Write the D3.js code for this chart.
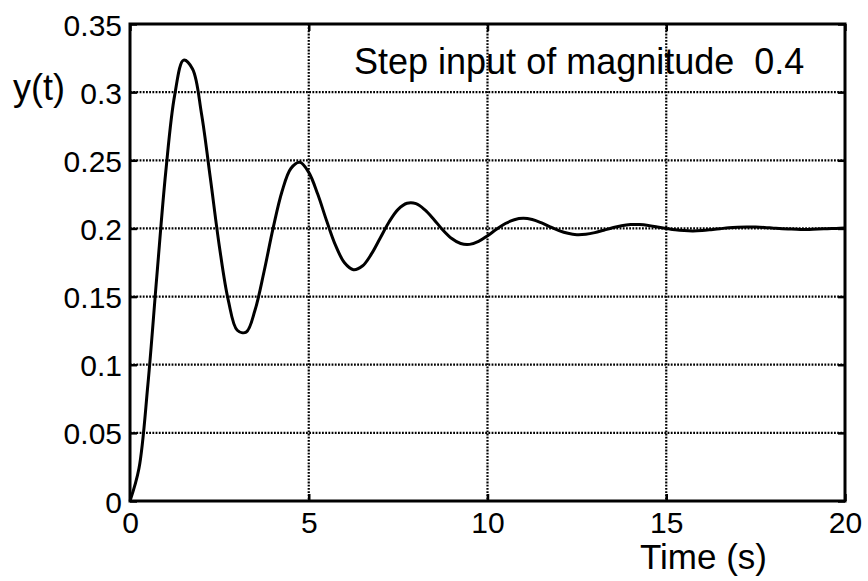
<!DOCTYPE html>
<html><head><meta charset="utf-8">
<script src="https://cdn.jsdelivr.net/npm/d3@7"></script>
<style>
html,body{margin:0;padding:0;background:#fff;}
text{font-family:"Liberation Sans",Arial,sans-serif;fill:#000;}
</style></head>
<body>
<svg id="chart" width="868" height="581"></svg>
<script>
// Data
const time = [0,0.25,0.5,0.75,1,1.25,1.5,1.75,2,2.25,2.5,2.75,3,3.25,3.5,3.75,4,4.25,4.5,4.75,5,5.25,5.5,5.75,6,6.25,6.5,6.75,7,7.25,7.5,7.75,8,8.25,8.5,8.75,9,9.25,9.5,9.75,10,10.25,10.5,10.75,11,11.25,11.5,11.75,12,12.25,12.5,12.75,13,13.25,13.5,13.75,14,14.25,14.5,14.75,15,15.25,15.5,15.75,16,16.25,16.5,16.75,17,17.25,17.5,17.75,18,18.25,18.5,18.75,19,19.25,19.5,19.75,20];
const response = [0,0.0238,0.0853,0.1648,0.2414,0.2978,0.3235,0.3170,0.2842,0.2364,0.1868,0.1472,0.1253,0.1239,0.1403,0.1684,0.1998,0.2269,0.2440,0.2485,0.2411,0.2252,0.2056,0.1875,0.1748,0.1697,0.1724,0.1811,0.1930,0.2049,0.2140,0.2185,0.2182,0.2136,0.2066,0.1989,0.1926,0.1889,0.1883,0.1905,0.1946,0.1994,0.2036,0.2064,0.2074,0.2065,0.2042,0.2012,0.1984,0.1964,0.1954,0.1957,0.1969,0.1987,0.2005,0.2020,0.2028,0.2028,0.2022,0.2011,0.2000,0.1990,0.1984,0.1982,0.1985,0.1991,0.1998,0.2005,0.2009,0.2011,0.2010,0.2007,0.2002,0.1998,0.1995,0.1993,0.1993,0.1995,0.1998,0.2000,0.2003];
const xTicks = [0,5,10,15,20];
const yTicks = [0,0.05,0.1,0.15,0.2,0.25,0.3,0.35];
const titleText = "Step input of magnitude\u00a0\u00a00.4";
const xLabel = "Time (s)";
const yLabel = "y(t)";

const svg = d3.select("#chart");
const L = 130, R = 845, T = 24, B = 501;
const x = d3.scaleLinear().domain([0,20]).range([L,R]);
const y = d3.scaleLinear().domain([0,0.35]).range([B,T]);

// grid
const grid = svg.append("g");
grid.selectAll("line.gx").data(xTicks.slice(1,-1)).join("line")
  .attr("x1",d=>x(d)).attr("x2",d=>x(d)).attr("y1",T).attr("y2",B)
  .attr("stroke","#000").attr("stroke-width",2.2).attr("stroke-dasharray","1.8,1.4");
grid.selectAll("line.gy").data(yTicks.slice(1,-1)).join("line")
  .attr("x1",L).attr("x2",R).attr("y1",d=>y(d)).attr("y2",d=>y(d))
  .attr("stroke","#000").attr("stroke-width",2.2).attr("stroke-dasharray","1.8,1.4");

// axes (inward ticks on all sides)
const tickLen = 7;
const xb = svg.append("g").attr("transform",`translate(0,${B})`)
  .call(d3.axisBottom(x).tickValues(xTicks).tickSize(-tickLen).tickPadding(11).tickFormat(d3.format("d")));
const xt = svg.append("g").attr("transform",`translate(0,${T})`)
  .call(d3.axisTop(x).tickValues(xTicks).tickSize(-tickLen).tickFormat(""));
const yl = svg.append("g").attr("transform",`translate(${L},0)`)
  .call(d3.axisLeft(y).tickValues(yTicks).tickSize(-tickLen).tickPadding(8).tickFormat(d=>d3.format("")(+d.toFixed(2))));
const yr = svg.append("g").attr("transform",`translate(${R},0)`)
  .call(d3.axisRight(y).tickValues(yTicks).tickSize(-tickLen).tickFormat(""));
[xb,xt,yl,yr].forEach(g=>{
  g.select(".domain").remove();
  g.selectAll(".tick line").attr("stroke","#000").attr("stroke-width",2.5);
  g.selectAll("text").attr("font-size",30).attr("font-family","Liberation Sans, Arial, sans-serif").attr("fill","#000");
});
yl.selectAll("text").attr("dy","0.37em");

// curve
const line = d3.line().x((d,i)=>x(time[i])).y(d=>y(d)).curve(d3.curveCatmullRom.alpha(0.5));
svg.append("path").datum(response).attr("d",line)
  .attr("fill","none").attr("stroke","#000").attr("stroke-width",3).attr("stroke-linejoin","round");

// frame
svg.append("rect").attr("x",L).attr("y",T).attr("width",R-L).attr("height",B-T)
  .attr("fill","none").attr("stroke","#000").attr("stroke-width",3);

// texts
svg.append("text").attr("x",354).attr("y",74).attr("font-size",36).text(titleText);
svg.append("text").attr("x",13).attr("y",100).attr("font-size",36).text(yLabel);
svg.append("text").attr("x",640).attr("y",569).attr("font-size",35).text(xLabel);
</script>
</body></html>
